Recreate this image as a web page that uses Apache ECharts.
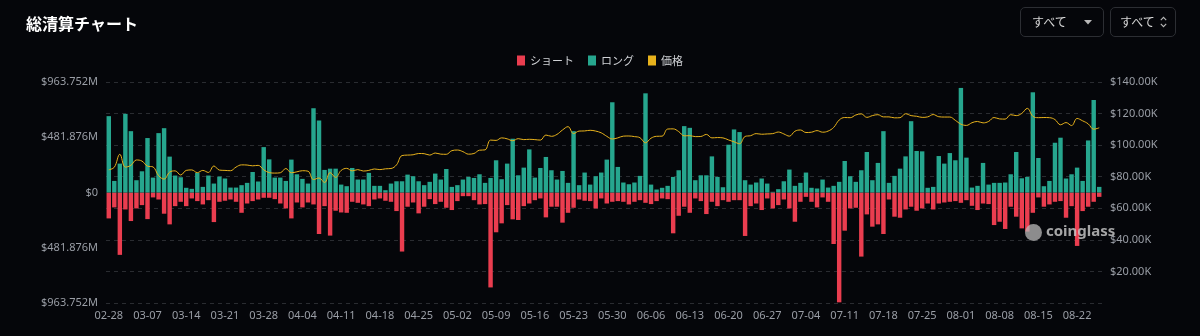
<!DOCTYPE html>
<html>
<head>
<meta charset="utf-8">
<script src="https://cdn.jsdelivr.net/npm/echarts@6/dist/echarts.min.js"></script>
<style>
html,body{margin:0;padding:0;background:#05060a;}
#wrap{position:relative;width:1200px;height:336px;}
#chart{position:absolute;left:0;top:0;width:1200px;height:336px;}
.sel{position:absolute;top:7px;height:30px;border:1px solid #2c2e33;border-radius:5px;box-sizing:border-box;
 color:#d8d8d8;font-family:"Noto Sans CJK JP","Noto Sans",sans-serif;font-size:12px;line-height:28px;padding-left:11px;white-space:nowrap;}
.sel svg{position:absolute;}
</style>
</head>
<body>
<div id="wrap">
<div id="chart"></div>
<div class="sel" style="left:1020px;width:84px;">すべて<svg style="left:63px;top:12px" width="8" height="5" viewBox="0 0 8 5"><path d="M0 0 L8 0 L4 4.5 Z" fill="#b8b8b8"/></svg></div>
<div class="sel" style="left:1110px;width:66px;padding-left:9px;">すべて<svg style="left:49px;top:8px" width="7" height="12" viewBox="0 0 7 12"><path d="M0.8 4.2 L3.5 1.3 L6.2 4.2 M0.8 7.8 L3.5 10.7 L6.2 7.8" stroke="#b8b8b8" stroke-width="1.1" fill="none"/></svg></div>
</div>
<script>
// ---- data ----
const categories = (function(){
  const out = ['02-28'];
  const months = [[3,31],[4,30],[5,31],[6,30],[7,31],[8,26]];
  months.forEach(([m,n])=>{ for(let d=1; d<=n; d++){ out.push(String(m).padStart(2,'0')+'-'+String(d).padStart(2,'0')); } });
  return out;
})();

// long liquidations (USD millions)
const longLiq = [
666,101,252,686,535,107,185,475,130,518,561,313,148,133,41,32,171,49,148,78,139,122,
43,43,64,84,179,96,396,289,130,130,101,287,159,119,78,735,628,197,208,208,69,55,
214,113,113,171,58,58,20,78,98,98,156,142,98,64,93,165,113,205,49,64,113,136,127,
159,84,127,281,116,252,469,150,217,376,130,214,310,194,113,188,84,535,64,174,69,142,174,
287,787,223,87,72,87,145,865,69,26,41,58,136,194,579,564,107,150,150,315,136,46,417,
550,527,107,69,87,122,78,6,29,98,200,58,84,174,41,35,113,43,58,93,275,142,93,
194,353,107,258,535,84,145,208,315,622,362,359,41,49,318,252,344,281,912,304,43,58,
258,69,84,84,87,159,353,124,136,874,301,55,101,434,478,122,159,217,101,454,807,49
];

// short liquidations (USD millions, drawn downward)
const shortLiq = [
226,130,544,148,249,139,110,232,43,61,185,278,119,81,119,52,75,104,67,258,81,72,
61,81,177,96,75,61,46,46,58,96,139,226,87,130,87,104,362,119,376,159,174,177,
81,90,104,119,61,52,72,81,162,515,124,87,182,124,58,101,81,133,153,75,32,32,67,
104,101,828,347,269,110,234,240,119,96,67,52,217,124,124,263,177,133,61,72,75,139,52,
96,81,75,81,104,81,67,90,101,75,52,58,356,203,124,177,52,75,188,81,119,67,81,
67,67,379,119,96,153,52,139,110,61,139,255,81,38,81,130,43,81,449,958,333,139,133,
559,191,298,278,362,61,211,220,148,124,159,139,96,148,96,87,81,75,90,67,116,153,
96,101,284,255,318,124,211,313,341,177,43,124,104,81,75,220,119,466,162,124,81,38
];

// BTC price (USD thousands)
const price = [
84.4,86.0,94.2,86.1,87.2,90.6,89.9,86.7,86.2,80.7,78.5,82.9,83.7,81.1,84.0,84.3,82.6,84.0,82.7,86.8,84.2,84.0,
83.8,86.1,87.5,87.4,86.9,87.2,84.4,82.6,82.3,82.5,85.2,82.5,83.1,83.8,83.5,78.2,79.2,76.3,82.6,79.6,84.0,85.3,
83.7,84.5,83.6,84.0,84.9,84.5,85.0,85.2,87.5,93.4,93.7,93.9,94.7,94.6,93.7,95.0,94.3,94.2,96.5,96.9,95.9,94.3,94.7,
96.8,97.0,103.2,103.0,104.6,104.0,102.8,104.1,103.5,103.7,103.5,103.2,106.4,105.6,106.8,109.6,111.7,107.3,108.9,109.0,109.4,108.9,107.8,
105.6,103.9,104.6,105.7,105.8,105.4,104.7,101.5,104.4,105.6,105.7,110.2,110.3,108.6,105.9,106.0,105.4,105.5,106.8,104.6,104.8,104.6,103.3,
102.1,100.9,105.5,106.0,107.3,106.9,107.1,107.3,108.3,107.1,105.7,108.8,109.6,108.0,108.2,109.2,108.2,108.9,111.2,115.9,117.5,117.4,119.1,
119.8,117.6,118.7,119.3,117.9,117.9,117.3,117.4,119.9,118.7,118.3,117.6,117.9,119.4,118.0,117.8,117.8,115.7,113.3,112.5,114.2,115.0,114.1,
115.0,117.5,116.6,116.5,119.3,118.7,120.1,123.3,118.3,117.4,117.5,117.4,116.2,112.9,114.3,112.4,116.9,115.4,113.5,110.1,111.0
];

const leftTicks = { min: -963.752, max: 963.752, interval: 481.876 };
const rightTicks = { min: 0, max: 140, interval: 20 };

// ---- chart ----
const RED = '#ea3d4f', TEAL = '#26a68e', GOLD = '#e8b21c';
const chart = echarts.init(document.getElementById('chart'), null, {renderer:'canvas'});
const font = '"Noto Sans","Noto Sans CJK JP",sans-serif';
chart.setOption({
  animation:false,
  backgroundColor:'#05060a',
  title:{ text:'総清算チャート', left:21, top:11,
    textStyle:{ color:'#ffffff', fontSize:16, fontWeight:'bold', fontFamily:'"Noto Sans CJK JP",sans-serif' } },
  legend:{ top:55, left:'center', itemWidth:8, itemHeight:10, itemGap:14, icon:'rect', padding:0,
    textStyle:{ color:'#d0d2d6', fontSize:11, fontFamily:'"Noto Sans CJK JP",sans-serif' },
    data:[{name:'ショート'},{name:'ロング'},{name:'価格'}] },
  grid:{ left:106, right:98, top:82, bottom:33, containLabel:false },
  xAxis:{ type:'category', data:categories, boundaryGap:true,
    axisLine:{show:false}, axisTick:{show:false},
    axisLabel:{ interval:6, color:'#9a9ea6', fontSize:11, margin:7, fontFamily:font },
    splitLine:{show:false} },
  yAxis:[
    { type:'value', min:leftTicks.min, max:leftTicks.max, interval:leftTicks.interval,
      axisLine:{show:false}, axisTick:{show:false}, splitLine:{show:false},
      axisLabel:{ color:'#9a9ea6', fontSize:11, margin:8, fontFamily:font,
        formatter:v=> Math.abs(v)<1e-9 ? '$0' : '$'+Math.abs(v).toFixed(3)+'M' } },
    { type:'value', min:rightTicks.min, max:rightTicks.max, interval:rightTicks.interval,
      axisLine:{show:false}, axisTick:{show:false},
      splitLine:{ show:true, lineStyle:{ color:'#2a2c31', type:[4,4], width:1 } },
      axisLabel:{ color:'#9a9ea6', fontSize:11, margin:8, fontFamily:font, showMinLabel:false,
        formatter:v=> '$'+v.toFixed(2)+'K' } }
  ],
  series:[
    { name:'ショート', type:'bar', yAxisIndex:0, data:shortLiq.map(v=>-v),
      itemStyle:{color:RED}, barWidth:'80%', barGap:'-100%' },
    { name:'ロング', type:'bar', yAxisIndex:0, data:longLiq,
      itemStyle:{color:TEAL}, barWidth:'80%', barGap:'-100%' },
    { name:'価格', type:'line', yAxisIndex:1, data:price, smooth:0.4, showSymbol:false, symbol:'none',
      lineStyle:{ color:GOLD, width:1 }, itemStyle:{color:GOLD}, z:5 }
  ],
  graphic:[
    { type:'circle', left:1025, top:224, shape:{r:8.5}, style:{ fill:'rgba(185,185,185,0.75)' }, z:10 },
    { type:'text', left:1046, top:224, z:10,
      style:{ text:'coinglass', fill:'rgba(205,205,205,0.8)', font:'bold 15px "Noto Sans",sans-serif' } }
  ]
});
</script>
</body>
</html>
